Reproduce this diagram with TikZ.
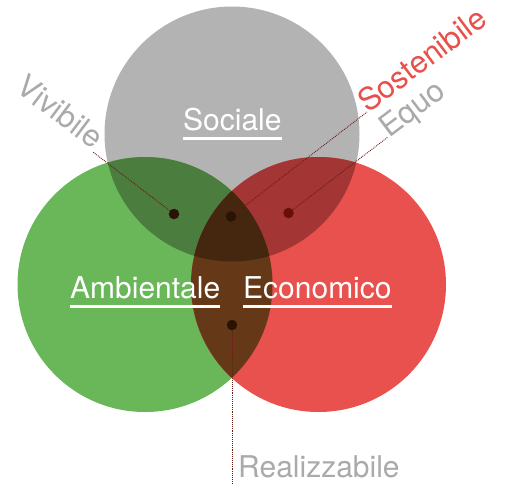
\documentclass[tikz,border=0pt]{standalone}
\usepackage{fontspec}
\setmainfont{TeX Gyre Heros}
\definecolor{cgray}{HTML}{B3B3B3}
\definecolor{cgreen}{HTML}{6AB75A}
\definecolor{cred}{HTML}{E8514D}
\definecolor{cgs}{HTML}{4B7D3E}
\definecolor{crs}{HTML}{A33634}
\definecolor{cae}{HTML}{653818}
\definecolor{call}{HTML}{45260F}
\definecolor{cdot}{HTML}{2A1206}
\definecolor{cdotr}{HTML}{6A0E0A}
\definecolor{tgray}{HTML}{AAAAAA}
\definecolor{tred}{HTML}{E8504C}
\definecolor{cline}{HTML}{6B1A14}
\begin{document}
\begin{tikzpicture}[x=1pt,y=-1pt,
  lbl/.style={inner sep=0pt, font=\fontsize{30}{36}\selectfont},
  rlbl/.style={inner sep=0pt, font=\fontsize{31}{36}\selectfont},
  mlbl/.style={lbl, text=white, anchor=base west},
  uline/.style={draw=white, line width=2.6pt},
  dotnode/.style={circle, fill=cdot, inner sep=0pt, minimum size=10.5pt},
  conn/.style={draw=cline, densely dotted, line width=0.9pt}]
\useasboundingbox (0,0) rectangle (506,483);
\def\R{127.5}
\coordinate (S) at (232,134);
\coordinate (A) at (145,284.5);
\coordinate (E) at (318.5,284.5);
\fill[cgray] (S) circle[radius=\R];
\fill[cgreen] (A) circle[radius=\R];
\fill[cred] (E) circle[radius=\R];
\begin{scope}
  \clip (S) circle[radius=\R];
  \fill[cgs] (A) circle[radius=\R];
  \fill[crs] (E) circle[radius=\R];
\end{scope}
\begin{scope}
  \clip (A) circle[radius=\R];
  \fill[cae] (E) circle[radius=\R];
  \clip (S) circle[radius=\R];
  \fill[call] (E) circle[radius=\R];
\end{scope}
% labels
\node[mlbl] (soc) at (183,130) {Sociale};
\node[mlbl] (amb) at (70,298) {Ambientale};
\node[mlbl] (eco) at (243,298) {Economico};
\foreach \n in {soc,amb,eco}
  \draw[uline] ([yshift=-8.5pt]\n.base west) -- ([yshift=-8.5pt]\n.base east);
\node[rlbl, text=tgray, rotate=-37, anchor=base east] (viv) at (93,150) {Vivibile};
\node[rlbl, text=tred, rotate=37, anchor=base west] (sos) at (368,114) {Sostenibile};
\node[rlbl, text=tgray, rotate=37, anchor=base west] (equ) at (389,139) {Equo};
\node[lbl, text=tgray, anchor=base west] (rea) at (238,477) {Realizzabile};
\coordinate (vivend) at (93,152);
\coordinate (sosend) at (367,112);
\coordinate (equend) at (388,137);
\coordinate (reaend) at (232,483);
% dots
\coordinate (p1) at (174,214);
\coordinate (p2) at (231,216.5);
\coordinate (p3) at (288.5,213);
\coordinate (p4) at (232,325);
\draw[conn] (p1) -- (vivend);
\draw[conn] (p2) -- (sosend);
\draw[conn] (p3) -- (equend);
\draw[conn] (p4) -- (reaend);
\node[dotnode] (d1) at (p1) {};
\node[dotnode] (d2) at (p2) {};
\node[dotnode, fill=cdotr] (d3) at (p3) {};
\node[dotnode] (d4) at (p4) {};
\end{tikzpicture}
\end{document}
